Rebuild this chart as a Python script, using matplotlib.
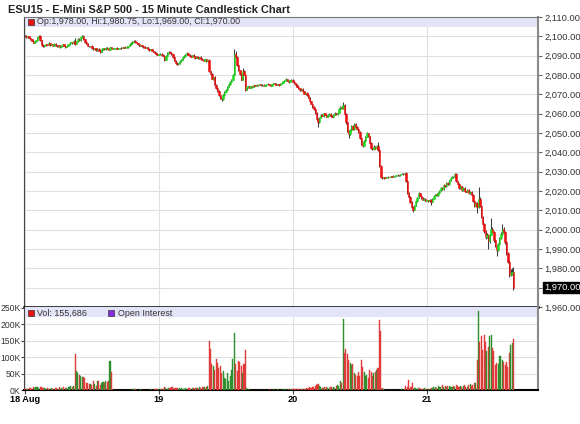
import numpy as np
import matplotlib
matplotlib.use("Agg")
import matplotlib.pyplot as plt
from matplotlib.patches import Rectangle
from matplotlib.ticker import FuncFormatter

plt.rcParams["font.family"] = ["Liberation Sans", "DejaVu Sans"]

title = "ESU15 - E-Mini S&P 500 - 15 Minute Candlestick Chart"
day_labels = ["18 Aug", "19", "20", "21"]
bars_per_day = 96
first_open = 2100.25

# 15 minute closes, one row = 3 hours
close_aug18 = [
    2100, 2099.5, 2100, 2099.25, 2098.5, 2097.75, 2096.75, 2097.5, 2098, 2099.5, 2100.25, 2098,
    2095.5, 2094.75, 2095.5, 2096, 2095.75, 2096.5, 2095.5, 2096, 2095.25, 2096.25, 2095.5, 2094.75,
    2095.5, 2094.5, 2095.25, 2096, 2095, 2094.5, 2095.25, 2096, 2096.5, 2097, 2096.5, 2097.5,
    2096.25, 2097.5, 2098.75, 2098, 2099.5, 2100.25, 2098.5, 2097, 2096.25, 2095, 2094.75, 2095.25,
    2094, 2093.25, 2093.75, 2092.75, 2093.5, 2092.5, 2092, 2093.25, 2093.75, 2093.25, 2094, 2093.5,
    2093, 2094.25, 2093.75, 2093.5, 2093.75, 2094, 2093.5, 2093.75, 2094, 2093.75, 2094.25, 2094,
    2094.5, 2094.25, 2095, 2096, 2096.75, 2097.25, 2097.75, 2097, 2096.5, 2096, 2095.25, 2095.5,
    2094.75, 2094.5, 2094, 2094.25, 2093.5, 2093, 2093.25, 2092.5, 2092, 2091.5, 2091, 2090.5,
]
close_aug19 = [
    2090.75, 2091, 2090.5, 2090, 2088, 2090, 2091.25, 2092, 2091.5, 2090.75, 2089.5, 2087.5,
    2086.25, 2085.5, 2086, 2087, 2088, 2089.25, 2090, 2090.75, 2091.25, 2090.5, 2090, 2089.5,
    2090.25, 2089.75, 2089, 2089.5, 2088.75, 2089.25, 2088.5, 2088, 2087.5, 2088.25, 2087, 2087.75,
    2082, 2080.5, 2078, 2078.75, 2075, 2073.5, 2071.5, 2069.5, 2068.25, 2067.5, 2069.5, 2071.25,
    2072.5, 2074, 2075.25, 2076.5, 2077.5, 2080, 2091, 2089.5, 2085, 2082.5, 2080.5, 2077.5,
    2082, 2080.25, 2072.5, 2073.75, 2074.25, 2073.5, 2074.25, 2074, 2074.75, 2074.5, 2075, 2074.75,
    2075.25, 2074.75, 2075, 2074.5, 2074.75, 2075.25, 2075.5, 2075, 2074.5, 2075.25, 2075.75, 2075.5,
    2075, 2075.25, 2074.75, 2075.5, 2076, 2076.75, 2077.25, 2077.75, 2077, 2076.5, 2077.25, 2077.5,
]
close_aug20 = [
    2076.5, 2075.75, 2075, 2074, 2073.25, 2072, 2072.75, 2071.5, 2070.25, 2070.75, 2069.5, 2068.25,
    2066.5, 2065, 2063.5, 2062.25, 2060.5, 2057.5, 2055.5, 2058, 2059.5, 2059, 2060.25, 2059.5,
    2058.5, 2059.25, 2060, 2059, 2058.5, 2059.5, 2060.25, 2059.75, 2060.5, 2062.25, 2063.5, 2062.75,
    2064.25, 2060, 2055.5, 2051, 2049.5, 2051.5, 2053.5, 2052, 2054.5, 2053, 2052, 2050.5,
    2047.5, 2044.5, 2043.5, 2045.75, 2048, 2049.75, 2048.25, 2045, 2042.5, 2041.5, 2043, 2042,
    2043.5, 2041.25, 2033, 2027, 2026.5, 2027.25, 2026.75, 2027, 2027.5, 2027.25, 2027.75, 2027.5,
    2028, 2027.75, 2028.25, 2028.5, 2028.25, 2028.75, 2029, 2028.75, 2029.25, 2025, 2019, 2017,
    2014.5, 2011.5, 2010.25, 2012.5, 2014.75, 2016.5, 2018.75, 2017.5, 2016.25, 2015.5, 2016, 2015,
]
close_aug21 = [
    2015.25, 2014.75, 2015.5, 2014.5, 2016, 2017.5, 2018.25, 2017.75, 2019, 2020.5, 2021.75, 2021,
    2023, 2022.5, 2024, 2023.5, 2025.5, 2026.75, 2027.5, 2027, 2028.75, 2025, 2023.5, 2021.5,
    2022.5, 2020.5, 2021.75, 2020, 2019.5, 2020.75, 2018.75, 2019.5, 2018, 2015, 2012.5, 2014,
    2011.5, 2016, 2012.5, 2006.5, 2003, 1999.5, 1996, 1997.5, 1994, 1997.5, 2000.5, 1999,
    1994.5, 1991.5, 1989.5, 1992.5, 1995.5, 1998, 2000.5, 1999, 1993.5, 1988, 1983.5, 1976.5,
    1977.25, 1978, 1970,
]

# wicks beyond the body, in ticks of 0.25
wick_up_ticks = [
    1, 2, 1, 1, 0, 1, 2, 1, 1, 1, 2, 1, 1, 2, 1, 0, 1, 2, 1, 1, 1, 2, 1, 1,
    1, 1, 2, 1, 1, 0, 1, 1, 2, 1, 1, 2, 6, 1, 1, 2, 1, 2, 1, 1, 2, 1, 1, 0,
    1, 2, 1, 1, 2, 1, 1, 2, 1, 1, 1, 2, 1, 1, 1, 0, 1, 0, 1, 1, 0, 1, 1, 0,
    1, 1, 1, 2, 1, 1, 2, 1, 1, 1, 0, 1, 1, 1, 2, 1, 1, 1, 0, 1, 1, 2, 1, 1,
    1, 1, 2, 1, 1, 1, 2, 1, 1, 1, 1, 2, 1, 1, 1, 1, 2, 1, 1, 1, 2, 1, 1, 1,
    1, 2, 1, 1, 1, 1, 2, 1, 1, 1, 1, 1, 2, 1, 2, 1, 2, 1, 1, 2, 1, 1, 2, 1,
    2, 1, 2, 1, 2, 3, 10, 6, 2, 2, 1, 2, 6, 2, 1, 1, 1, 0, 1, 1, 0, 1, 1, 0,
    1, 0, 1, 1, 0, 1, 1, 0, 1, 1, 1, 0, 1, 1, 0, 1, 1, 1, 1, 2, 1, 1, 1, 1,
    1, 1, 1, 2, 1, 1, 1, 2, 1, 1, 1, 2, 1, 1, 1, 2, 1, 1, 2, 1, 2, 1, 1, 1,
    1, 2, 1, 1, 1, 1, 2, 1, 1, 2, 2, 1, 7, 2, 2, 1, 2, 3, 2, 2, 3, 2, 2, 1,
    2, 1, 3, 2, 2, 3, 2, 1, 2, 2, 3, 2, 2, 8, 2, 2, 1, 1, 0, 1, 1, 0, 1, 1,
    1, 0, 1, 1, 0, 1, 1, 1, 1, 2, 2, 1, 2, 1, 2, 1, 2, 1, 2, 1, 1, 2, 1, 1,
    1, 1, 1, 1, 2, 1, 1, 2, 1, 1, 2, 1, 2, 1, 2, 2, 1, 2, 1, 2, 3, 2, 1, 2,
    2, 1, 2, 2, 1, 2, 1, 2, 2, 1, 2, 2, 2, 24, 3, 2, 3, 2, 2, 3, 2, 3, 22, 3,
    2, 3, 2, 3, 2, 3, 10, 3, 2, 3, 2, 3, 9, 8, 11,
]
wick_dn_ticks = [
    1, 1, 2, 1, 1, 1, 0, 1, 1, 1, 1, 2, 1, 1, 1, 2, 1, 1, 1, 0, 1, 1, 1, 2,
    1, 2, 1, 1, 1, 2, 1, 1, 1, 0, 1, 1, 2, 1, 1, 1, 2, 1, 1, 2, 1, 1, 2, 1,
    2, 1, 1, 2, 1, 1, 2, 1, 1, 1, 2, 1, 1, 1, 0, 1, 0, 1, 1, 0, 1, 1, 0, 1,
    1, 1, 1, 1, 1, 2, 1, 1, 1, 2, 1, 1, 1, 2, 1, 1, 1, 2, 1, 1, 1, 1, 2, 1,
    1, 1, 1, 1, 4, 1, 1, 1, 1, 1, 2, 1, 2, 1, 1, 1, 1, 1, 1, 1, 1, 1, 1, 1,
    1, 1, 2, 1, 1, 1, 1, 1, 1, 1, 1, 1, 2, 2, 1, 2, 1, 2, 2, 1, 2, 3, 1, 1,
    1, 2, 1, 1, 1, 1, 1, 2, 2, 1, 2, 1, 1, 2, 4, 1, 1, 1, 0, 1, 1, 0, 1, 1,
    0, 1, 1, 0, 1, 1, 0, 1, 1, 1, 0, 1, 1, 1, 1, 0, 1, 1, 1, 1, 1, 2, 1, 1,
    1, 1, 2, 1, 1, 1, 2, 1, 1, 1, 2, 1, 2, 1, 2, 1, 2, 3, 10, 2, 1, 1, 2, 1,
    1, 1, 1, 2, 1, 1, 1, 1, 1, 1, 1, 1, 1, 2, 3, 2, 8, 2, 1, 2, 1, 2, 2, 1,
    2, 2, 3, 1, 2, 1, 2, 2, 3, 2, 1, 2, 1, 2, 3, 2, 1, 1, 0, 1, 1, 1, 0, 1,
    1, 1, 0, 1, 1, 1, 0, 1, 1, 2, 3, 2, 2, 2, 5, 1, 1, 2, 1, 1, 2, 1, 1, 1,
    1, 1, 1, 6, 1, 1, 1, 1, 2, 1, 1, 1, 1, 2, 1, 1, 2, 1, 1, 1, 2, 2, 1, 2,
    1, 2, 1, 2, 1, 1, 2, 1, 1, 2, 3, 2, 12, 2, 3, 2, 3, 4, 3, 2, 16, 3, 2, 3,
    3, 2, 12, 3, 2, 2, 3, 2, 3, 4, 3, 3, 2, 2, 4,
]

# volume per bar, thousands of contracts
vol_aug18 = [
    3, 4, 2, 5, 6, 4, 8, 6, 9, 10, 7, 9, 8, 6, 5, 4, 6, 3, 4, 5, 3, 4, 6, 5,
    4, 10, 6, 4, 9, 7, 5, 8, 10, 11, 9, 12, 110, 59, 52, 45, 41, 40, 38, 35, 22, 20, 18, 17,
    16, 27, 18, 13, 27, 27, 16, 21, 23, 21, 27, 24, 28, 88, 54, 4, 1, 0.5, 0.5, 0.8, 0.6, 0.5, 0.7, 0.5,
    0.6, 0.8, 0.5, 0.7, 1.5, 2.5, 3, 2, 1.5, 1.2, 1.5, 2, 1.2, 1, 1.5, 1.2, 1, 1.3, 2, 1.5, 1.2, 1.8, 2.5, 3,
]
vol_aug19 = [
    2, 3, 2.5, 4, 10, 5, 3, 7, 5, 8, 9, 6, 7, 5, 4, 6, 5, 4, 3, 5, 4, 6, 5, 4,
    6, 5, 7, 5, 6, 8, 7, 9, 8, 10, 9, 12, 149, 125, 78, 72, 62, 93, 83, 67, 72, 52, 57, 37,
    32, 52, 27, 42, 62, 93, 174, 78, 57, 88, 85, 72, 52, 78, 121, 6, 2, 1, 0.5, 0.5, 0.8, 0.6, 0.5, 0.7,
    0.5, 0.6, 0.8, 0.5, 0.7, 1, 1.5, 2, 1.5, 1.2, 2, 1.5, 1, 2, 1.2, 1, 1.5, 2.5, 1.2, 1.8, 1.5, 2, 2.5, 3,
]
vol_aug20 = [
    3, 2, 2.5, 3, 4, 3, 2.5, 3.5, 4, 3, 5, 6, 8, 7, 9, 10, 12, 16, 18, 11, 8, 7, 6, 8,
    9, 7, 6, 8, 10, 9, 7, 12, 14, 11, 26, 22, 216, 112, 124, 109, 91, 81, 76, 78, 51, 46, 44, 56,
    41, 91, 71, 56, 41, 46, 36, 61, 56, 41, 51, 56, 61, 66, 213, 178, 5, 2, 1, 0.5, 0.5, 0.8, 0.6, 0.5,
    1, 0.8, 1.5, 1.2, 1, 1.5, 2, 1.5, 2.5, 12, 8, 30, 10, 8, 20, 6, 5, 4, 6, 5, 4, 3, 5, 4,
]
vol_aug21 = [
    3, 4, 3, 5, 6, 8, 10, 7, 12, 9, 8, 14, 10, 12, 9, 11, 13, 8, 10, 12, 9, 14, 11, 10,
    13, 8, 12, 15, 10, 9, 14, 18, 12, 16, 20, 22, 91, 241, 147, 163, 122, 168, 147, 117, 132, 163, 168, 127,
    117, 76, 81, 78, 102, 102, 91, 86, 76, 86, 71, 112, 137, 142, 155.686,
]

closes = np.array(close_aug18 + close_aug19 + close_aug20 + close_aug21)
opens = np.concatenate([[first_open], closes[:-1]])
highs = np.maximum(opens, closes) + np.array(wick_up_ticks) * 0.25
lows = np.minimum(opens, closes) - np.array(wick_dn_ticks) * 0.25
volume = np.array(vol_aug18 + vol_aug19 + vol_aug20 + vol_aug21) * 1000
x = np.arange(len(closes))
rising = closes >= opens

UP, DOWN = "#22dd22", "#ee1111"
VUP, VDOWN = "#2f8f2f", "#e03a3a"
BAND = "#e4e4f8"
GRID = "#e0e0e0"

W, H = 580, 424
fig = plt.figure(figsize=(W / 100, H / 100), dpi=100)


def px_box(left, top, right, bottom):
    return [left / W, 1 - bottom / H, (right - left) / W, (bottom - top) / H]


ax = fig.add_axes(px_box(24, 17, 538, 307))
axv = fig.add_axes(px_box(24, 307, 538, 390), sharex=ax)

# candles
ax.vlines(x, lows, highs, color="#3c3c3c", lw=0.75, zorder=2)
body = np.abs(closes - opens)
body = np.where(body == 0, 0.2, body)
ax.bar(x, body, bottom=np.minimum(opens, closes), width=1.0,
       color=np.where(rising, UP, DOWN), edgecolor=np.where(rising, UP, DOWN),
       lw=0.4, zorder=3)

# volume
vcol = np.where(rising, VUP, VDOWN)
axv.bar(x, volume, width=0.75, color=vcol, edgecolor=vcol, lw=0.3, zorder=3)

day_ticks = [i * bars_per_day for i in range(len(day_labels))]
ax.set_xlim(-0.6, 367.6)
ax.set_ylim(1960, 2110)
axv.set_ylim(0, 252000)

for a in (ax, axv):
    a.set_axisbelow(True)
    a.grid(True, color=GRID, lw=0.8)
    a.set_xticks(day_ticks)

# price axis on the right
last = closes[-1]
ax.yaxis.tick_right()
ax.set_yticks(np.arange(1960, 2111, 10))
ax.yaxis.set_major_formatter(FuncFormatter(lambda v, p: "" if abs(v - last) < 0.01 else f"{v:,.2f}"))
ax.tick_params(axis="y", direction="out", length=3, width=0.8, color="#666666",
               labelsize=6.7, labelcolor="#333333", pad=1.5)
ax.tick_params(axis="x", length=0, labelbottom=False)
ax.annotate(f"{last:,.2f}", xy=(1, last), xycoords=("axes fraction", "data"),
            xytext=(4.5, 0), textcoords="offset points", va="center", ha="left",
            fontsize=6.7, color="white",
            bbox=dict(boxstyle="square,pad=0.12", fc="black", ec="black"))

axv.set_yticks(np.arange(0, 250001, 50000))
axv.yaxis.set_major_formatter(FuncFormatter(lambda v, p: f"{int(v / 1000)}K"))
axv.tick_params(axis="y", direction="out", length=2, width=0.8, color="#444444",
                labelsize=6.2, labelcolor="#333333", pad=0.5)
axv.set_xticklabels(day_labels, fontweight="bold", fontsize=6.6)
axv.tick_params(axis="x", direction="out", length=3, width=0.8, color="#444444", pad=0.5)

# spines
ax.spines["left"].set(color="#444444", lw=0.8)
ax.spines["top"].set(color="#777777", lw=0.8)
ax.spines["right"].set(color="#8a8a8a", lw=1.5)
ax.spines["bottom"].set(color="black", lw=1.8)
axv.spines["top"].set_visible(False)
axv.spines["left"].set(color="#444444", lw=0.8)
axv.spines["right"].set(color="#8a8a8a", lw=1.5)
axv.spines["bottom"].set(color="black", lw=1.5)

# header bands with legends
ax.add_patch(Rectangle((0, 1 - 10 / 290), 1, 10 / 290, transform=ax.transAxes,
                       fc=BAND, ec="none", zorder=1))
axv.add_patch(Rectangle((0, 1 - 10 / 83), 1, 10 / 83, transform=axv.transAxes,
                        fc=BAND, ec="none", zorder=1))


def legend_key(left, top, color, label, text_x):
    fig.add_artist(Rectangle((left / W, 1 - (top + 6) / H), 6 / W, 6 / H,
                             transform=fig.transFigure, fc=color, ec="#333333", lw=0.5))
    fig.text(text_x / W, 1 - (top + 3) / H, label, fontsize=6.4, color="#333333", va="center")


legend_key(28, 19, DOWN,
           f"Op:{opens[-1]:,.2f}, Hi:{highs[-1]:,.2f}, Lo:{lows[-1]:,.2f}, Cl:{closes[-1]:,.2f}", 37)
legend_key(28, 310, DOWN, f"Vol: {volume[-1]:,.0f}", 37)
legend_key(108, 310, "#8a2be2", "Open Interest", 118)

fig.text(8 / W, 1 - 10 / H, title, fontsize=7.9, fontweight="bold", color="#222222", va="center")

fig.savefig("out.png", dpi=100)
